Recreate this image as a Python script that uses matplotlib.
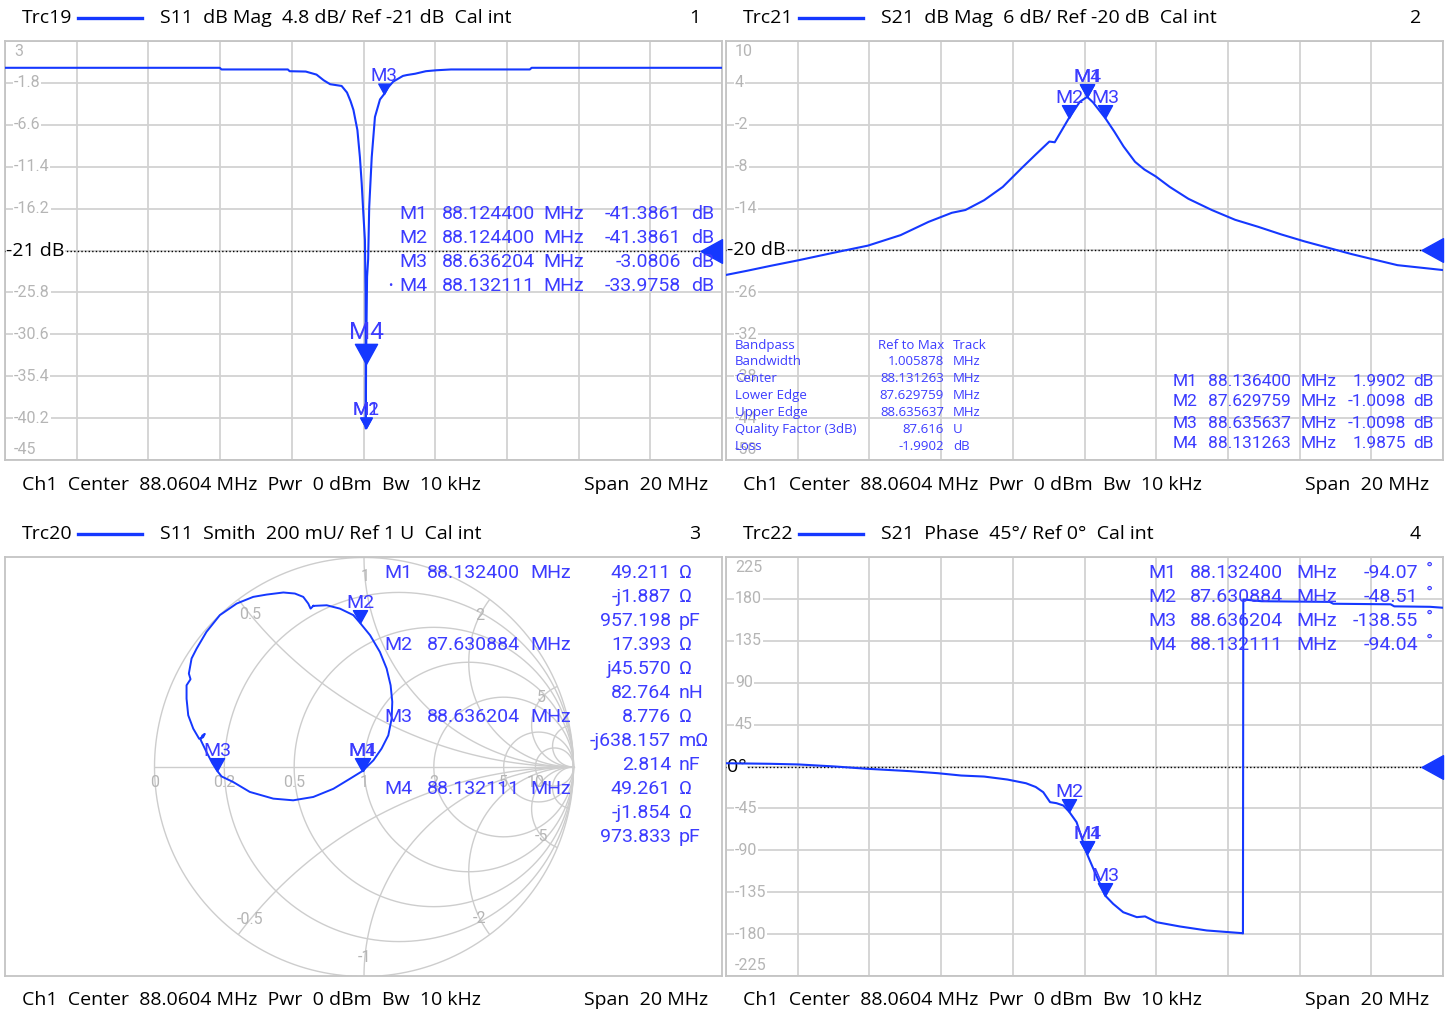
import numpy as np
import matplotlib
matplotlib.use("Agg")
import matplotlib.pyplot as plt
from matplotlib.path import Path
from matplotlib.patches import Circle
from matplotlib.lines import Line2D
from matplotlib.transforms import blended_transform_factory

# ---------------- sweep settings ----------------
CENTER_MHZ = 88.0604
SPAN_MHZ = 20.0
F0 = CENTER_MHZ - SPAN_MHZ / 2
F1 = CENTER_MHZ + SPAN_MHZ / 2

# ---------------- Trc19: S11 dB magnitude ----------------
s11_mhz = [78.06, 84.05, 84.10, 85.95, 86.00, 86.45, 86.75, 86.95, 87.13, 87.45,
           87.60, 87.70, 87.78, 87.89, 87.96, 88.01, 88.055, 88.10, 88.118, 88.1244,
           88.132, 88.16, 88.19, 88.22, 88.29, 88.38, 88.52, 88.636, 88.75, 88.89,
           89.16, 89.27, 89.50, 89.80, 90.10, 90.50, 92.70, 92.75, 98.06]
s11_db = [-0.07, -0.07, -0.26, -0.26, -0.46, -0.50, -0.85, -1.5, -1.95, -2.15,
          -2.9, -3.9, -4.9, -7.2, -10.3, -13.3, -16.7, -19.8, -26.0, -41.3861,
          -33.9758, -24.0, -22.0, -16.0, -10.3, -5.7, -3.7, -3.0806, -2.3, -1.65,
          -1.0, -0.9, -0.75, -0.46, -0.35, -0.26, -0.26, -0.07, -0.07]
s11_markers = ["M1", "M2", "M3", "M4"]
s11_marker_mhz = [88.124400, 88.124400, 88.636204, 88.132111]
s11_marker_db = [-41.3861, -41.3861, -3.0806, -33.9758]

# ---------------- Trc21: S21 dB magnitude ----------------
s21_mhz = [78.06, 78.65, 79.30, 80.08, 80.99, 82.02, 82.93, 83.71, 84.36, 84.74,
           85.26, 85.78, 86.30, 86.69, 87.08, 87.23, 87.6298, 87.93, 88.1313, 88.1364,
           88.30, 88.6356, 88.89, 89.15, 89.47, 89.73, 90.05, 90.44, 90.96, 91.61,
           92.26, 92.90, 93.55, 94.20, 94.85, 95.50, 96.14, 96.79, 98.06]
s21_db = [-23.5, -22.9, -22.2, -21.4, -20.4, -19.3, -17.8, -15.9, -14.6, -14.2,
          -12.8, -10.9, -8.24, -6.3, -4.4, -4.5, -1.0098, 1.3, 1.9875, 1.9902,
          1.2, -1.0098, -2.96, -5.1, -7.3, -8.4, -9.4, -10.9, -12.6, -14.2,
          -15.6, -16.6, -17.7, -18.7, -19.6, -20.5, -21.3, -22.1, -22.8]
s21_markers = ["M1", "M2", "M3", "M4"]
s21_marker_mhz = [88.136400, 87.629759, 88.635637, 88.131263]
s21_marker_db = [1.9902, -1.0098, -1.0098, 1.9875]

# bandpass filter search results
bp_labels = ["Bandpass", "Bandwidth", "Center", "Lower Edge", "Upper Edge",
             "Quality Factor (3dB)", "Loss"]
bp_values = ["Ref to Max", "1.005878", "88.131263", "87.629759", "88.635637",
             "87.616", "-1.9902"]
bp_units = ["Track", "MHz", "MHz", "MHz", "MHz", "U", "dB"]

# ---------------- Trc22: S21 phase ----------------
ph_mhz = [78.06, 79.30, 80.08, 81.10, 82.02, 83.19, 83.97, 84.62, 85.26, 85.91,
          86.43, 86.70, 86.91, 87.10, 87.28, 87.47, 87.6309, 87.84, 88.1321, 88.1324,
          88.31, 88.6362, 88.86, 89.14, 89.52, 89.75, 90.07, 90.72, 91.47, 92.46,
          92.48, 92.49, 93.00, 94.90, 95.00, 96.60, 96.70, 97.70, 98.06]
ph_deg = [3.5, 2.9, 2.2, 0.0, -2.5, -5.0, -7.2, -9.7, -10.8, -14.0,
          -18.0, -22.0, -27.6, -38.3, -39.4, -41.9, -48.51, -59.8, -94.04, -94.07,
          -110.0, -138.55, -147.5, -156.5, -161.8, -161.0, -167.2, -171.8, -176.1, -179.0,
          -179.3, 179.4, 177.5, 176.8, 174.8, 174.2, 172.0, 171.5, 170.5]
ph_markers = ["M1", "M2", "M3", "M4"]
ph_marker_mhz = [88.132400, 87.630884, 88.636204, 88.132111]
ph_marker_deg = [-94.07, -48.51, -138.55, -94.04]

# ---------------- Trc20: S11 Smith (reflection coefficient) ----------------
gamma_re = [-0.242, -0.178, -0.115, -0.051, -0.019, 0.029, 0.076, 0.108, 0.127, 0.135,
            0.132, 0.116, 0.084, 0.045, -0.007, -0.067, -0.146, -0.242, -0.338, -0.433,
            -0.545, -0.624, -0.680, -0.701, -0.725, -0.752, -0.780, -0.772, -0.760, -0.768,
            -0.787, -0.815, -0.839, -0.847, -0.847, -0.828, -0.836, -0.823, -0.799, -0.752,
            -0.688, -0.608, -0.529, -0.465, -0.385, -0.330, -0.290, -0.266, -0.255, -0.242]
gamma_im = [0.769, 0.772, 0.756, 0.725, 0.688, 0.629, 0.549, 0.470, 0.390, 0.311,
            0.231, 0.151, 0.088, 0.032, -0.019, -0.056, -0.104, -0.143, -0.159, -0.151,
            -0.119, -0.072, -0.045, -0.018, 0.020, 0.072, 0.130, 0.150, 0.158, 0.142,
            0.135, 0.183, 0.247, 0.326, 0.390, 0.419, 0.446, 0.518, 0.565, 0.645,
            0.725, 0.780, 0.812, 0.823, 0.833, 0.828, 0.812, 0.780, 0.756, 0.769]
Z0 = 50.0
sm_markers = ["M1", "M2", "M3", "M4"]
sm_marker_mhz = ["88.132400", "87.630884", "88.636204", "88.132111"]
sm_marker_r = [49.211, 17.393, 8.776, 49.261]
sm_marker_x = [-1.887, 45.570, -0.638157, -1.854]
sm_marker_lines = [["49.211", "Ω"], ["-j1.887", "Ω"], ["957.198", "pF"],
                   ["17.393", "Ω"], ["j45.570", "Ω"], ["82.764", "nH"],
                   ["8.776", "Ω"], ["-j638.157", "mΩ"], ["2.814", "nF"],
                   ["49.261", "Ω"], ["-j1.854", "Ω"], ["973.833", "pF"]]
smith_r = [0.2, 0.5, 1, 2, 5, 10]
smith_r_labels = ["0", "0.2", "0.5", "1", "2", "5", "10"]
smith_x = [0.5, 1, 2, 5, 10]
smith_x_labels = ["0.5", "1", "2", "5"]

# ---------------- figure and styling ----------------
W, H = 1454, 1014
fig = plt.figure(figsize=(W / 100, H / 100), dpi=100)
fig.patch.set_facecolor("white")

UI = ["Open Sans", "DejaVu Sans"]
NARROW = ["Liberation Sans Narrow", "Roboto", "DejaVu Sans"]
TRACE = "#1538ff"
MTEXT = "#3c3cff"
GRID = "#d2d2d2"
BORDER = "#c4c4c4"
TICK = "#b5b5b5"
HDR = 14

TRI_DOWN = Path([(0, 0), (-0.55, 1), (0.55, 1), (0, 0)],
                [Path.MOVETO, Path.LINETO, Path.LINETO, Path.CLOSEPOLY])
REF_ARROW = Path([(-1, 0), (0, -0.55), (0, 0.55), (-1, 0)],
                 [Path.MOVETO, Path.LINETO, Path.LINETO, Path.CLOSEPOLY])


def fx(x):
    return x / W


def fy(y):
    return 1 - y / H


def put(x, y, s, size, color="black", ha="left", family=UI, va="center", **kw):
    fig.text(fx(x), fy(y), s, fontsize=size, color=color, ha=ha, va=va,
             family=family, **kw)


def header(y, trc, desc, num, x0):
    put(x0, y, trc, HDR)
    fig.add_artist(Line2D([fx(x0 + 56), fx(x0 + 120)], [fy(y), fy(y)],
                          color=TRACE, lw=2.4))
    put(x0 + 138, y, desc, HDR)
    put(x0 + 678, y, num, HDR, ha="right")


def footer(y, x0):
    put(x0, y, "Ch1  Center  88.0604 MHz  Pwr  0 dBm  Bw  10 kHz", HDR)
    put(x0 + 686, y, "Span  20 MHz", HDR, ha="right")


def add_box(x0, y0, x1, y1):
    ax = fig.add_axes([fx(x0), fy(y1), (x1 - x0) / W, (y1 - y0) / H])
    for sp in ax.spines.values():
        sp.set_color(BORDER)
        sp.set_linewidth(1.3)
    ax.tick_params(length=0, labelbottom=False, labelleft=False)
    return ax


def rect_panel(box, top, per_div, ref, ref_text, fmt):
    ax = add_box(*box)
    ax.set_xlim(F0, F1)
    ax.set_ylim(top - 10 * per_div, top)
    ax.set_xticks(np.linspace(F0, F1, 11))
    levels = [top - k * per_div for k in range(11)]
    ax.set_yticks(levels)
    ax.grid(True, color=GRID, lw=1.3)
    ax.set_axisbelow(True)
    tr = blended_transform_factory(ax.transAxes, ax.transData)
    for k, v in enumerate(levels):
        if abs(v - ref) < 1e-9:
            continue
        dy = -11 if k == 0 else (10 if k == 10 else 0)
        ax.annotate(fmt(v), xy=(0, v), xycoords=tr, xytext=(9, dy),
                    textcoords="offset pixels", ha="left", va="center",
                    color=TICK, fontsize=11.5, family=NARROW,
                    bbox=dict(fc="white", ec="none", pad=0.6), zorder=3)
    ax.axhline(ref, color="black", lw=1.0, ls=(0, (1, 1.6)), zorder=4)
    ax.annotate(ref_text, xy=(0, ref), xycoords=tr, xytext=(1, 0),
                textcoords="offset pixels", ha="left", va="center",
                color="black", fontsize=HDR, family=UI,
                bbox=dict(fc="white", ec="none", pad=0.3), zorder=5)
    ax.plot([F1], [ref], marker=REF_ARROW, ms=31, color=TRACE, ls="none",
            clip_on=False, zorder=6)
    return ax


def mark(ax, x, y, name, ms=18.5, fs=13.5, gap=15):
    ax.plot([x], [y], marker=TRI_DOWN, ms=ms, color=TRACE, ls="none",
            clip_on=False, zorder=7)
    ax.annotate(name, xy=(x, y), xytext=(0, gap), textcoords="offset pixels",
                ha="center", va="baseline", color=MTEXT, fontsize=fs,
                family=NARROW, zorder=8)


def fmt_num(v):
    s = f"{v:.1f}".rstrip("0").rstrip(".")
    return s if s != "-0" else "0"


MK = 14  # marker readout text size

# ---------------- panel 1: S11 dB ----------------
header(18, "Trc19", "S11  dB Mag  4.8 dB/ Ref -21 dB  Cal int", "1", 22)
ax1 = rect_panel((5, 41, 722, 460), 3, 4.8, -21, "-21 dB", fmt_num)
ax1.plot(s11_mhz, s11_db, color=TRACE, lw=1.5, zorder=5)
for n, f, v in zip(s11_markers, s11_marker_mhz, s11_marker_db):
    if n == "M4":
        mark(ax1, f, v, n, ms=29, fs=17.5, gap=25)
    else:
        mark(ax1, f, v, n, ms=15, fs=13.5, gap=13)
rows1 = [214, 238, 262, 286]
for y, n, f, v in zip(rows1, s11_markers, s11_marker_mhz, s11_marker_db):
    put(399, y, n, MK, MTEXT, family=NARROW)
    put(442, y, f"{f:.6f}", MK, MTEXT, family=NARROW)
    put(543, y, "MHz", MK, MTEXT, family=NARROW)
    put(681, y, f"{v:.4f}", MK, MTEXT, ha="right", family=NARROW)
    put(691, y, "dB", MK, MTEXT, family=NARROW)
put(388, rows1[3], "•", 9, MTEXT, family=NARROW)
footer(485, 22)

# ---------------- panel 2: S21 dB ----------------
header(18, "Trc21", "S21  dB Mag  6 dB/ Ref -20 dB  Cal int", "2", 743)
ax2 = rect_panel((726, 41, 1443, 460), 10, 6, -20, "-20 dB", fmt_num)
ax2.plot(s21_mhz, s21_db, color=TRACE, lw=1.5, zorder=5)
for n, f, v in zip(s21_markers, s21_marker_mhz, s21_marker_db):
    mark(ax2, f, v, n, ms=18.5, fs=14, gap=15)
rows2 = [381, 402, 423, 444]
for y, n, f, v in zip(rows2, s21_markers, s21_marker_mhz, s21_marker_db):
    put(1173, y, n, 12.5, MTEXT, family=NARROW)
    put(1208, y, f"{f:.6f}", 12.5, MTEXT, family=NARROW)
    put(1301, y, "MHz", 12.5, MTEXT, family=NARROW)
    put(1406, y, f"{v:.4f}", 12.5, MTEXT, ha="right", family=NARROW)
    put(1413, y, "dB", 12.5, MTEXT, family=NARROW)
for i, (lab, val, unit) in enumerate(zip(bp_labels, bp_values, bp_units)):
    y = 345 + i * 16.9
    put(735, y, lab, 9.5, MTEXT, family=UI)
    put(944, y, val, 9.5, MTEXT, ha="right", family=UI)
    put(953, y, unit, 9.5, MTEXT, family=UI)
footer(485, 743)

# ---------------- panel 3: S11 Smith ----------------
header(534, "Trc20", "S11  Smith  200 mU/ Ref 1 U  Cal int", "3", 22)
CX, CY, RPX = 364, 767, 209.5
ax3 = add_box(5, 557, 722, 976)
ax3.set_xlim((5 - CX) / RPX, (722 - CX) / RPX)
ax3.set_ylim((CY - 976) / RPX, (CY - 557) / RPX)
ax3.set_xticks([])
ax3.set_yticks([])
SG = "#cdcdcd"
th = np.linspace(0, 2 * np.pi, 1441)
unit_clip = Circle((0, 0), 1.0, transform=ax3.transData)
ax3.plot(np.cos(th), np.sin(th), color=SG, lw=1.0, zorder=1)
ax3.plot([-1, 1], [0, 0], color=SG, lw=1.0, zorder=1)
for r in smith_r:
    c, rad = r / (1 + r), 1 / (1 + r)
    ax3.plot(c + rad * np.cos(th), rad * np.sin(th), color=SG, lw=1.0, zorder=1)
for xv in smith_x:
    for s in (1, -1):
        rad = 1 / xv
        ln, = ax3.plot(1 + rad * np.cos(th), s * rad + rad * np.sin(th),
                       color=SG, lw=1.0, zorder=1)
        ln.set_clip_path(unit_clip)
# resistance labels along the real axis
for lab in smith_r_labels:
    r = float(lab)
    ax3.text((r - 1) / (r + 1), -0.075, lab, ha="center", va="center",
             color=TICK, fontsize=11.5, family=NARROW, zorder=2)
# reactance labels where each arc meets |gamma| = 0.91
k = 0.91 ** 2
for lab in smith_x_labels:
    xv = float(lab)
    a, b, c = (1 - k), -2 * (1 + k), (1 - k) * (1 + xv ** 2)
    r = (-b - np.sqrt(b * b - 4 * a * c)) / (2 * a)
    for s in (1, -1):
        z = complex(r, s * xv)
        g = (z - 1) / (z + 1)
        ax3.text(g.real, g.imag, lab if s > 0 else "-" + lab, ha="center",
                 va="center", color=TICK, fontsize=11.5, family=NARROW, zorder=2)
ax3.plot(gamma_re, gamma_im, color=TRACE, lw=1.4, zorder=5)
for n, rr, xx in zip(sm_markers, sm_marker_r, sm_marker_x):
    z = complex(rr, xx) / Z0
    g = (z - 1) / (z + 1)
    mark(ax3, g.real, g.imag, n, ms=18.5, fs=14, gap=15)
for i, (val, unit) in enumerate(sm_marker_lines):
    y = 573 + 24 * i
    if i % 3 == 0:
        put(384, y, sm_markers[i // 3], MK, MTEXT, family=NARROW)
        put(427, y, sm_marker_mhz[i // 3], MK, MTEXT, family=NARROW)
        put(530, y, "MHz", MK, MTEXT, family=NARROW)
    put(671, y, val, MK, MTEXT, ha="right", family=NARROW)
    put(679, y, unit, MK, MTEXT, family=NARROW)
footer(1000, 22)

# ---------------- panel 4: S21 phase ----------------
header(534, "Trc22", "S21  Phase  45°/ Ref 0°  Cal int", "4", 743)
ax4 = rect_panel((726, 557, 1443, 976), 225, 45, 0, "0°", fmt_num)
ax4.plot(ph_mhz, ph_deg, color=TRACE, lw=1.5, zorder=5)
for n, f, v in zip(ph_markers, ph_marker_mhz, ph_marker_deg):
    mark(ax4, f, v, n, ms=18.5, fs=14, gap=15)
rows4 = [573, 597, 621, 645]
for y, n, f, v in zip(rows4, ph_markers, ph_marker_mhz, ph_marker_deg):
    put(1148, y, n, MK, MTEXT, family=NARROW)
    put(1190, y, f"{f:.6f}", MK, MTEXT, family=NARROW)
    put(1296, y, "MHz", MK, MTEXT, family=NARROW)
    put(1418, y, f"{v:.2f}", MK, MTEXT, ha="right", family=NARROW)
    put(1426, y - 3, "°", MK, MTEXT, family=NARROW)
footer(1000, 743)

fig.savefig("out.png", dpi=100, facecolor="white")
